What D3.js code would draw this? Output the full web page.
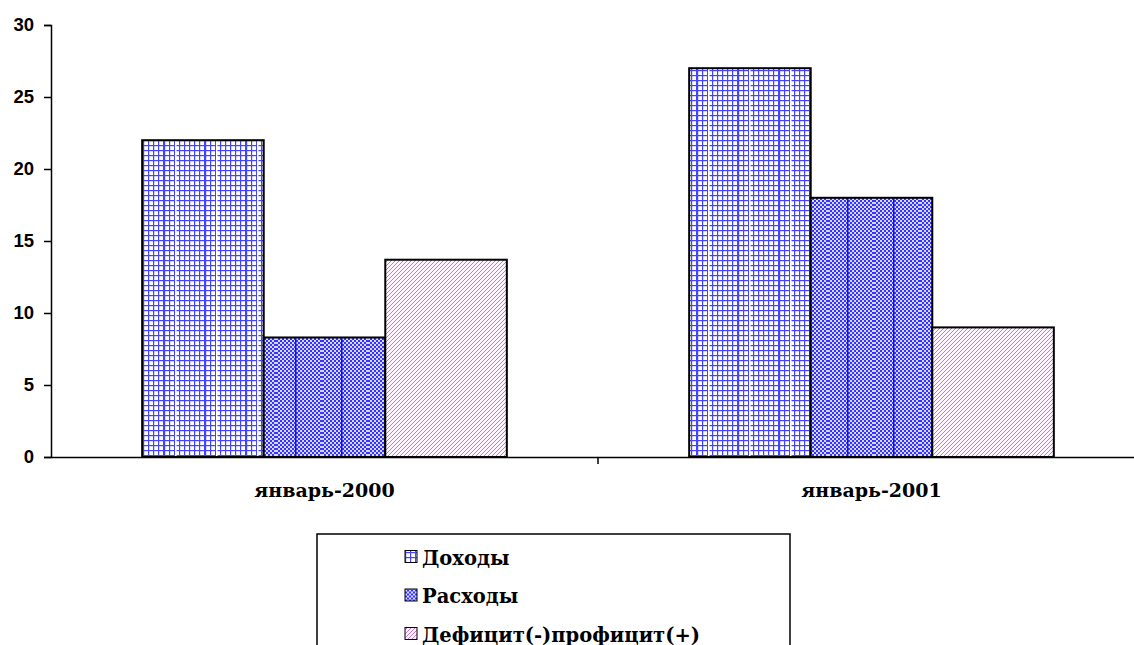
<!DOCTYPE html>
<html>
<head>
<meta charset="utf-8">
<script src="https://cdn.jsdelivr.net/npm/d3@7"></script>
<style>
  body { margin: 0; background: #fff; }
  .cat { font-family: "DejaVu Serif", serif; font-weight: bold; font-size: 19px; }
  .leg { font-family: "DejaVu Serif", serif; font-weight: bold; font-size: 19.5px; }
</style>
</head>
<body>
<div id="chart"></div>
<script>
// chart data
var categories = ["январь-2000", "январь-2001"];
var seriesNames = ["Доходы", "Расходы", "Дефицит(-)профицит(+)"];
var income = [22, 27];
var spending = [8.3, 18];
var balance = [13.7, 9];
var yTicks = [0, 5, 10, 15, 20, 25, 30];

var svgWidth = 1134;
var svgHeight = 645;

var svg = d3.select("#chart")
  .append("svg")
  .attr("width", svgWidth)
  .attr("height", svgHeight);

// fill patterns
var defs = svg.append("defs");

// grid for Доходы
var g0 = defs.append("pattern").attr("id", "grid0")
  .attr("patternUnits", "userSpaceOnUse").attr("width", 5).attr("height", 5);
g0.append("rect").attr("width", 5).attr("height", 5).attr("fill", "#fff");
g0.append("rect").attr("width", 1.2).attr("height", 5).attr("fill", "#4444ff");
g0.append("rect").attr("width", 5).attr("height", 1.2).attr("fill", "#4444ff");

var p0 = defs.append("pattern").attr("id", "pat0")
  .attr("patternUnits", "userSpaceOnUse").attr("width", 41).attr("height", 10);
p0.append("rect").attr("width", 41).attr("height", 10).attr("fill", "url(#grid0)");
p0.append("rect").attr("x", 11).attr("width", 1.5).attr("height", 10).attr("fill", "#fff");

// checker for Расходы
var g1 = defs.append("pattern").attr("id", "check1")
  .attr("patternUnits", "userSpaceOnUse").attr("width", 4).attr("height", 4);
g1.append("rect").attr("width", 4).attr("height", 4).attr("fill", "#d6d6ff");
g1.append("rect").attr("width", 2).attr("height", 2).attr("fill", "#3535ff");
g1.append("rect").attr("x", 2).attr("y", 2).attr("width", 2).attr("height", 2).attr("fill", "#3535ff");

var p1 = defs.append("pattern").attr("id", "pat1")
  .attr("patternUnits", "userSpaceOnUse").attr("width", 46).attr("height", 4);
p1.append("rect").attr("width", 46).attr("height", 4).attr("fill", "url(#check1)");
p1.append("rect").attr("x", 19).attr("width", 1.5).attr("height", 4).attr("fill", "#1010ee");

// diagonal hatch for Дефицит
var p2 = defs.append("pattern").attr("id", "pat2")
  .attr("patternUnits", "userSpaceOnUse").attr("width", 4).attr("height", 4);
p2.append("rect").attr("width", 4).attr("height", 4).attr("fill", "#fdf3fd");
p2.append("path").attr("d", "M0,4 L4,0 M-1,1 L1,-1 M3,5 L5,3")
  .attr("stroke", "#c77ad4").attr("stroke-width", 1);

var fills = ["url(#pat0)", "url(#pat1)", "url(#pat2)"];
var legendFills = ["url(#grid0)", "url(#check1)", "url(#pat2)"];

// scales
var x0 = d3.scaleBand().domain(categories).range([51, 1145]);
var x1 = d3.scaleBand().domain(seriesNames)
  .range([0, x0.bandwidth()]).paddingInner(0).paddingOuter(0.75);
var y = d3.scaleLinear().domain([0, 30]).range([457, 25]);

var rows = [];
categories.forEach(function(c, i) {
  rows.push({cat: c, s: seriesNames[0], v: income[i]});
  rows.push({cat: c, s: seriesNames[1], v: spending[i]});
  rows.push({cat: c, s: seriesNames[2], v: balance[i]});
});

// bars
svg.append("g").selectAll("rect")
  .data(rows)
  .enter()
  .append("rect")
  .attr("x", d => x0(d.cat) + x1(d.s))
  .attr("y", d => y(d.v))
  .attr("width", x1.bandwidth())
  .attr("height", d => y(0) - y(d.v))
  .attr("fill", d => fills[seriesNames.indexOf(d.s)])
  .attr("stroke", "#000")
  .attr("stroke-width", 2);

// y axis
var yAxis = svg.append("g")
  .attr("transform", "translate(51,0)")
  .call(d3.axisLeft(y).tickValues(yTicks).tickSize(7).tickPadding(10));
yAxis.select(".domain").attr("stroke-width", 1.5);
yAxis.selectAll(".tick line").attr("stroke-width", 1.5);
yAxis.selectAll(".tick text")
  .attr("font-family", "'Liberation Sans', Arial, sans-serif")
  .attr("font-weight", "bold")
  .attr("font-size", 18.5)
  .attr("fill", "#000");

// x axis
var xAxis = svg.append("g")
  .attr("transform", "translate(0,457)")
  .call(d3.axisBottom(x0).tickSize(0).tickFormat(""));
xAxis.select(".domain").attr("stroke-width", 1.5);
xAxis.selectAll(".sep")
  .data(categories.slice(1))
  .enter()
  .append("line")
  .attr("x1", d => x0(d)).attr("x2", d => x0(d))
  .attr("y1", 0).attr("y2", 7)
  .attr("stroke", "#000").attr("stroke-width", 1.5);

svg.append("g").selectAll("text")
  .data(categories)
  .enter()
  .append("text")
  .attr("class", "cat")
  .attr("x", d => x0(d) + x0.bandwidth() / 2)
  .attr("y", 497)
  .attr("text-anchor", "middle")
  .text(d => d);

// legend
var legend = svg.append("g");
legend.append("rect")
  .attr("x", 317).attr("y", 534)
  .attr("width", 473).attr("height", 130)
  .attr("fill", "#fff").attr("stroke", "#000").attr("stroke-width", 1.5);

var items = legend.selectAll(".item")
  .data(seriesNames)
  .enter()
  .append("g")
  .attr("transform", (d, i) => `translate(405, ${557 + i * 38.5})`);

items.append("rect")
  .attr("x", 0).attr("y", -6.5)
  .attr("width", 12).attr("height", 12)
  .attr("fill", (d, i) => legendFills[i])
  .attr("stroke", "#000").attr("stroke-width", 1);

items.append("text")
  .attr("class", "leg")
  .attr("x", 17).attr("y", 7.5)
  .text(d => d);
</script>
</body>
</html>
